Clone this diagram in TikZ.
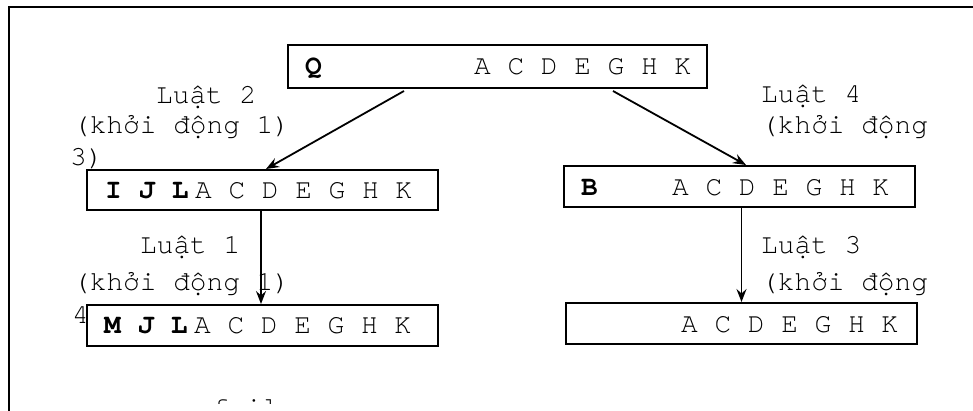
\documentclass[tikz,border=0pt]{standalone}
\usepackage{fontspec}
\setmainfont{TeX Gyre Cursor}
\usetikzlibrary{arrows.meta}
\pgfdeclarelayer{background}
\pgfsetlayers{background,main}
\begin{document}
\begin{tikzpicture}[x=1pt,y=-1pt,
  box/.style={draw, line width=2pt, fill=white, anchor=north west, inner sep=0pt, minimum width=351pt, minimum height=41pt},
  txt/.style={anchor=base west, inner sep=0pt, font=\fontsize{27.8}{33}\selectfont},
  arr/.style={line width=1.8pt, -{Stealth[length=13pt,width=10pt,inset=4.5pt]}},
  frame/.style={line width=2pt}]
\useasboundingbox (0,0) rectangle (973,410);
\clip (0,0) rectangle (973,410);
\draw[frame] (9,430) -- (9,7) -- (990,7);

% boxes
\node[box, minimum width=419pt, minimum height=43pt] (Q) at (287,44) {};
\node[box, minimum height=40pt] (IJL) at (86,169) {};
\node[box] (B) at (563,165) {};
\node[box] (MJL) at (86,304) {};
\node[box] (F) at (565,302) {};

% box texts
\node[txt] (qb) at (305,74) {\textbf{Q}};
\node[txt] (qr) at (474,74) {A C D E G H K};
\node[txt] (ib) at (105,198) {\textbf{I J L}};
\node[txt] (ir) at (195,198) {A C D E G H K};
\node[txt] (bb) at (581,195) {\textbf{B}};
\node[txt] (br) at (672,195) {A C D E G H K};
\node[txt] (mb) at (104,333) {\textbf{M J L}};
\node[txt] (mr) at (194,333) {A C D E G H K};
\node[txt] (fr) at (681,332) {A C D E G H K};

% labels (behind boxes)
\begin{pgfonlayer}{background}
\node[txt] (l2a) at (156,103) {Luật 2};
\node[txt] (l2b) at (73,133) {(khởi động 1)};
\node[txt] (l2c) at (70,165) {3)};
\node[txt] (l4a) at (761,102) {Luật 4};
\node[txt] (l4b) at (761,133) {(khởi động};
\node[txt] (l1a) at (140,253) {Luật 1};
\node[txt] (l1b) at (73,290) {(khởi động 1)};
\node[txt] (l1c) at (72,323) {4};
\node[txt] (l3a) at (761,253) {Luật 3};
\node[txt] (l3b) at (761,290) {(khởi động};
\end{pgfonlayer}

% connectors
\draw[arr] ([xshift=-93.5pt,yshift=-2pt]Q.south) -- ([xshift=3.5pt]IJL.north);
\draw[arr] ([xshift=115.5pt,yshift=-2pt]Q.south) -- ([xshift=6.5pt]B.north);
\draw[arr] ([xshift=-1.5pt]IJL.south) -- ([xshift=-1.5pt]MJL.north);
\draw[arr] (F.north |- B.south) -- (F.north);

\begin{scope}
\clip (150,380) rectangle (330,403);
\node[txt] (fail) at (212,416) {fail};
\end{scope}
\end{tikzpicture}
\end{document}
